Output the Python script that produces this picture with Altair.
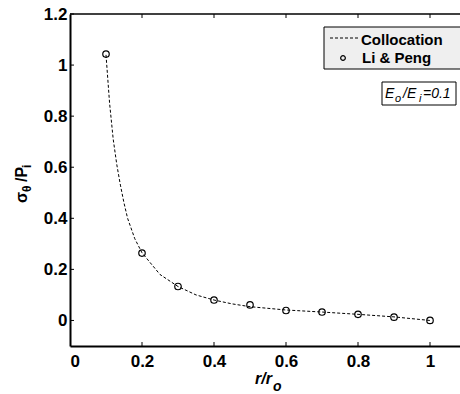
import altair as alt
import pandas as pd

# Li & Peng reference points
pts_r = [0.1, 0.2, 0.3, 0.4, 0.5, 0.6, 0.7, 0.8, 0.9, 1.0]
pts_s = [1.043, 0.264, 0.133, 0.080, 0.061, 0.039, 0.033, 0.024, 0.013, 0.0]

# Collocation curve
col_r = [0.10, 0.11, 0.12, 0.13, 0.14, 0.15, 0.16, 0.18, 0.20, 0.25, 0.30,
         0.35, 0.40, 0.45, 0.50, 0.60, 0.70, 0.80, 0.90, 1.00]
col_s = [1.04, 0.85, 0.71, 0.61, 0.53, 0.46, 0.40, 0.32, 0.265, 0.18, 0.133,
         0.10, 0.080, 0.065, 0.054, 0.041, 0.033, 0.024, 0.014, 0.0]

x_ticks = [0, 0.2, 0.4, 0.6, 0.8, 1.0]
y_ticks = [0, 0.2, 0.4, 0.6, 0.8, 1.0, 1.2]

W, H = 390, 332
XMAX = 1.0833
FONT = "Liberation Sans"

xs = alt.Scale(domain=[0, XMAX], nice=False, zero=False)
ys = alt.Scale(domain=[-0.1, 1.2], nice=False, zero=False)

x_axis = alt.Axis(values=x_ticks, format="~g", grid=False, ticks=False,
                  domain=True, domainColor="black", domainWidth=2,
                  labelFont=FONT, labelFontWeight="bold", labelFontSize=17,
                  labelColor="black", labelPadding=7, title=None)
y_axis = alt.Axis(values=y_ticks, format="~g", grid=False, ticks=False,
                  domain=True, domainColor="black", domainWidth=2,
                  labelFont=FONT, labelFontWeight="bold", labelFontSize=17,
                  labelColor="black", labelPadding=3, title=None)

df_line = pd.DataFrame({"r": col_r, "s": col_s})
df_pts = pd.DataFrame({"r": pts_r, "s": pts_s})
one = pd.DataFrame({"a": [0]})

line = alt.Chart(df_line).mark_line(color="black", strokeWidth=1, strokeDash=[3, 2]).encode(
    x=alt.X("r:Q", scale=xs, axis=x_axis),
    y=alt.Y("s:Q", scale=ys, axis=y_axis),
)
points = alt.Chart(df_pts).mark_point(shape="circle", filled=False, color="black",
                                      size=42, strokeWidth=1.2, opacity=1).encode(
    x=alt.X("r:Q", scale=xs),
    y=alt.Y("s:Q", scale=ys),
)

df_xt = pd.DataFrame({"t": x_ticks[1:]})
df_yt = pd.DataFrame({"t": y_ticks})
xt_bot = alt.Chart(df_xt).mark_rule(color="black", strokeWidth=1).encode(
    x=alt.X("t:Q", scale=xs), y=alt.value(H), y2=alt.value(H - 4))
xt_top = alt.Chart(df_xt).mark_rule(color="black", strokeWidth=1).encode(
    x=alt.X("t:Q", scale=xs), y=alt.value(0), y2=alt.value(4))
yt_left = alt.Chart(df_yt).mark_rule(color="black", strokeWidth=1).encode(
    y=alt.Y("t:Q", scale=ys), x=alt.value(0), x2=alt.value(4))
top_line = alt.Chart(one).mark_rule(color="black", strokeWidth=1.5).encode(
    x=alt.value(0), x2=alt.value(W + 5), y=alt.value(0))

# legend box
leg_box = alt.Chart(one).mark_rect(fill="#efefef", stroke="black", strokeWidth=1).encode(
    x=alt.value(254), x2=alt.value(W + 10), y=alt.value(13), y2=alt.value(55))
leg_line = alt.Chart(one).mark_rule(color="black", strokeWidth=1, strokeDash=[3, 2]).encode(
    x=alt.value(260), x2=alt.value(289), y=alt.value(24))
leg_pt = alt.Chart(one).mark_point(shape="circle", filled=False, color="black",
                                   size=22, strokeWidth=1.2, opacity=1).encode(
    x=alt.value(273), y=alt.value(44))


def txt(s, x, y, size, weight="bold", style="normal", angle=0):
    kw = dict(text=s, font=FONT, fontSize=size, fontWeight=weight, fontStyle=style,
              color="black", align="left", baseline="alphabetic")
    if angle:
        kw["angle"] = angle
    return alt.Chart(one).mark_text(**kw).encode(x=alt.value(x), y=alt.value(y))


leg_t1 = txt("Collocation", 291, 31, 15)
leg_t2 = txt("Li & Peng", 292, 49, 15)

# E box
e_box = alt.Chart(one).mark_rect(fill="white", stroke="black", strokeWidth=1).encode(
    x=alt.value(312), x2=alt.value(386), y=alt.value(68), y2=alt.value(91))
e1 = txt("E", 315, 84, 14, "normal", "italic")
e2 = txt("o", 325, 88, 11, "normal", "italic")
e3 = txt("/E", 333, 84, 14, "normal", "italic")
e4 = txt("i", 349, 88, 11, "normal", "italic")
e5 = txt("=0.1", 353, 84, 14, "normal", "italic")

# axis titles
xt1 = txt("r/r", 185, 370, 16, "bold", "italic")
xt2 = txt("o", 203, 377, 14, "bold", "italic")
yt1 = txt("σ", -43, 189, 16, "bold", "normal", 270)
yt2 = txt("θ", -39, 178, 12, "bold", "normal", 270)
yt3 = txt("/P", -43, 168, 16, "bold", "normal", 270)
yt4 = txt("i", -39, 154, 12, "bold", "normal", 270)

chart = alt.layer(
    line, points, xt_bot, xt_top, yt_left, top_line,
    leg_box, leg_line, leg_pt, leg_t1, leg_t2,
    e_box, e1, e2, e3, e4, e5,
    xt1, xt2, yt1, yt2, yt3, yt4,
).properties(
    width=W, height=H,
    autosize=alt.AutoSizeParams(type="none"),
    padding={"left": 70, "top": 14, "right": 0, "bottom": 48},
    background="white",
).configure_view(stroke=None)

chart.save("out.html", embed_options={"renderer": "svg", "actions": False})
